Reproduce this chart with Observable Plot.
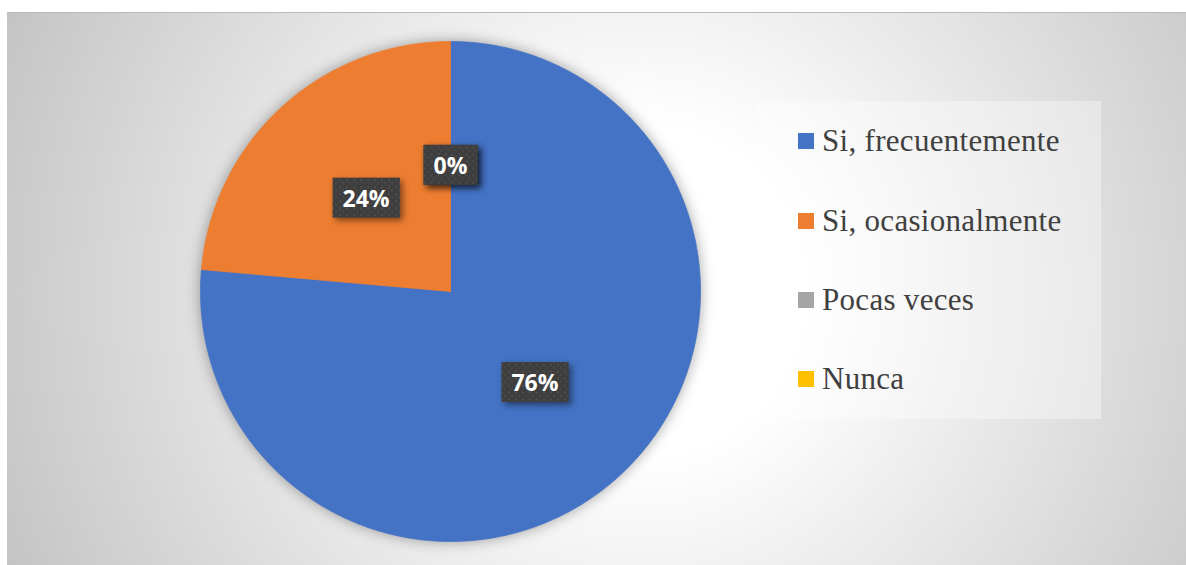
<!DOCTYPE html>
<html>
<head>
<meta charset="utf-8">
<script src="https://cdn.jsdelivr.net/npm/d3@7"></script>
<script src="https://cdn.jsdelivr.net/npm/@observablehq/plot@0.6"></script>
<style>
  html, body { margin: 0; padding: 0; background: #ffffff; }
  #page { position: relative; width: 1186px; height: 565px; overflow: hidden; }
  #frame { position: absolute; left: 7px; top: 12px; width: 1179px; height: 553px;
    background: radial-gradient(circle farthest-corner at 633px 278px, #ffffff 0%, #ffffff 24%, #c4c4c4 100%);
    border-top: 1px solid #b9b9b9; box-sizing: border-box; }
  #chart { position: absolute; left: 0; top: 0; }
  #legend { position: absolute; left: 758px; top: 101px; width: 343px; height: 318px;
    background: rgba(255,255,255,0.35); }
  .item { position: absolute; left: 0; height: 40px; width: 343px; }
  .swatch { position: absolute; left: 40px; top: 12px; width: 16px; height: 16px; }
  .label { position: absolute; left: 64px; top: 0; height: 40px; line-height: 40px;
    font-family: "Liberation Serif", "DejaVu Serif", serif; font-size: 31px; letter-spacing: 0.3px; color: #404040; white-space: nowrap; }
</style>
</head>
<body>
<div id="page">
  <div id="frame"></div>
  <div id="chart"></div>
  <div id="legend"></div>
</div>
<script>
const categories = ["Si, frecuentemente", "Si, ocasionalmente", "Pocas veces", "Nunca"];
const values = [76.4, 23.6, 0, 0];
const colors = ["#4472C4", "#ED7D31", "#A5A5A5", "#FFC000"];

const arcs = d3.pie().sort(null).value(d => d)(values);
const total = d3.sum(values);

// Slice polygons in unit-circle data space (y up)
const slicePoints = [];
arcs.forEach((a, i) => {
  const span = a.endAngle - a.startAngle;
  if (span <= 0) return;
  const n = Math.max(2, Math.ceil(span / 0.005));
  slicePoints.push({cat: categories[i], x: 0, y: 0});
  for (let k = 0; k <= n; k++) {
    const t = a.startAngle + span * k / n;
    slicePoints.push({cat: categories[i], x: Math.sin(t), y: Math.cos(t)});
  }
  slicePoints.push({cat: categories[i], x: 0, y: 0});
});

const labelData = arcs.map((a, i) => {
  const mid = (a.startAngle + a.endAngle) / 2;
  return {cat: categories[i], x: 0.5 * Math.sin(mid), y: 0.5 * Math.cos(mid),
    text: d3.format(".0%")(values[i] / total)};
});

const plot = Plot.plot({
  width: 1186,
  height: 565,
  margin: 0,
  style: {background: "transparent", overflow: "visible"},
  x: {domain: [-1, 1], range: [200, 700], axis: null},
  y: {domain: [-1, 1], range: [541, 41], axis: null},
  color: {domain: categories, range: colors},
  marks: [
    Plot.line(slicePoints, {x: "x", y: "y", z: "cat", fill: "cat", stroke: "cat", strokeWidth: 0.8, curve: "linear"}),
    Plot.text(labelData, {x: "x", y: "y", text: "text", fill: "white", fontSize: 23, fontWeight: "bold",
      fontFamily: "Open Sans, Liberation Sans, sans-serif"})
  ]
});
document.getElementById("chart").appendChild(plot);

// pie shadow
const lineG = plot.querySelector('g[aria-label="line"]');
if (lineG) lineG.style.filter = "drop-shadow(0px 0px 7px rgba(0,0,0,0.35))";

// dark textured label boxes
const ns = "http://www.w3.org/2000/svg";
const defs = document.createElementNS(ns, "defs");
defs.innerHTML = `<pattern id="dk" width="7" height="7" patternUnits="userSpaceOnUse">
  <rect width="7" height="7" fill="#3e3e3e"/>
  <rect x="1" y="1" width="2" height="2" fill="#4e4e4e"/>
  <rect x="4" y="4" width="2" height="2" fill="#494949"/>
</pattern>`;
plot.insertBefore(defs, plot.firstChild);
plot.querySelectorAll('g[aria-label="text"] text').forEach(t => {
  const b = t.getBBox();
  const cy = b.y + b.height / 2;
  const r = document.createElementNS(ns, "rect");
  r.setAttribute("x", b.x - 10);
  r.setAttribute("width", b.width + 20);
  r.setAttribute("y", cy - 20);
  r.setAttribute("height", 40);
  r.setAttribute("fill", "url(#dk)");
  const tr = t.getAttribute("transform");
  if (tr) r.setAttribute("transform", tr);
  r.style.filter = "drop-shadow(3px 3px 3px rgba(0,0,0,0.45))";
  t.parentNode.insertBefore(r, t);
});

// legend
const legend = document.getElementById("legend");
const rowCenters = [141, 221, 300, 379];
categories.forEach((c, i) => {
  const item = document.createElement("div");
  item.className = "item";
  item.style.top = (rowCenters[i] - 101 - 20) + "px";
  const sw = document.createElement("div");
  sw.className = "swatch";
  sw.style.background = colors[i];
  const lb = document.createElement("div");
  lb.className = "label";
  lb.textContent = c;
  item.appendChild(sw);
  item.appendChild(lb);
  legend.appendChild(item);
});
</script>
</body>
</html>
